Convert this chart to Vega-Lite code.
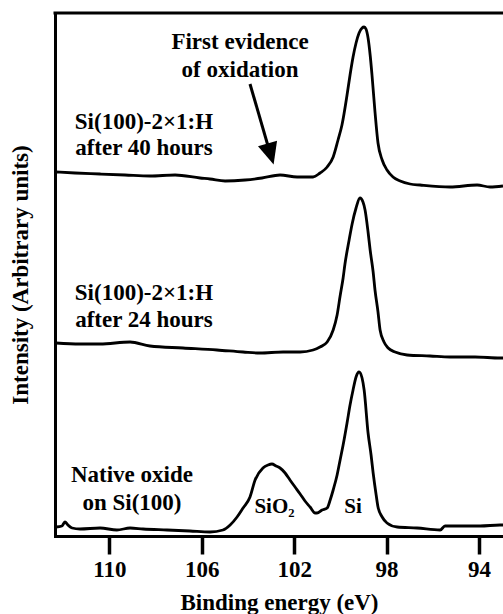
{
  "$schema": "https://vega.github.io/schema/vega-lite/v6.json",
  "width": 448,
  "height": 523,
  "autosize": "none",
  "padding": {"left": 55, "top": 13, "right": 0, "bottom": 78},
  "background": "white",
  "config": {"font": "Liberation Serif", "view": {"stroke": null}},
  "datasets": {
    "spectra": [
      {"series": "40h", "E": 112.31, "I": 364}, {"series": "40h", "E": 111.48, "I": 363}, {"series": "40h", "E": 110.40, "I": 362},
      {"series": "40h", "E": 109.32, "I": 361}, {"series": "40h", "E": 108.24, "I": 360}, {"series": "40h", "E": 107.15, "I": 361},
      {"series": "40h", "E": 106.07, "I": 358}, {"series": "40h", "E": 105.64, "I": 357}, {"series": "40h", "E": 104.99, "I": 355},
      {"series": "40h", "E": 104.12, "I": 356}, {"series": "40h", "E": 103.39, "I": 358}, {"series": "40h", "E": 102.61, "I": 361},
      {"series": "40h", "E": 101.87, "I": 359}, {"series": "40h", "E": 101.18, "I": 359}, {"series": "40h", "E": 100.88, "I": 363},
      {"series": "40h", "E": 100.57, "I": 369}, {"series": "40h", "E": 100.31, "I": 379}, {"series": "40h", "E": 100.10, "I": 396},
      {"series": "40h", "E": 99.93, "I": 411}, {"series": "40h", "E": 99.71, "I": 441}, {"series": "40h", "E": 99.58, "I": 461},
      {"series": "40h", "E": 99.45, "I": 479}, {"series": "40h", "E": 99.32, "I": 493}, {"series": "40h", "E": 99.19, "I": 503},
      {"series": "40h", "E": 99.06, "I": 508}, {"series": "40h", "E": 98.97, "I": 509}, {"series": "40h", "E": 98.89, "I": 507},
      {"series": "40h", "E": 98.80, "I": 498}, {"series": "40h", "E": 98.71, "I": 481}, {"series": "40h", "E": 98.63, "I": 461},
      {"series": "40h", "E": 98.50, "I": 424}, {"series": "40h", "E": 98.37, "I": 393}, {"series": "40h", "E": 98.19, "I": 376},
      {"series": "40h", "E": 97.98, "I": 366}, {"series": "40h", "E": 97.72, "I": 359}, {"series": "40h", "E": 97.41, "I": 355},
      {"series": "40h", "E": 96.98, "I": 352}, {"series": "40h", "E": 96.55, "I": 351}, {"series": "40h", "E": 95.25, "I": 349},
      {"series": "40h", "E": 94.08, "I": 351}, {"series": "40h", "E": 93.52, "I": 349}, {"series": "40h", "E": 92.96, "I": 350},

      {"series": "24h", "E": 112.31, "I": 193}, {"series": "24h", "E": 111.27, "I": 192}, {"series": "24h", "E": 110.40, "I": 192},
      {"series": "24h", "E": 109.10, "I": 194}, {"series": "24h", "E": 108.24, "I": 190}, {"series": "24h", "E": 106.81, "I": 188},
      {"series": "24h", "E": 105.34, "I": 186}, {"series": "24h", "E": 104.21, "I": 184}, {"series": "24h", "E": 103.48, "I": 183},
      {"series": "24h", "E": 102.48, "I": 184}, {"series": "24h", "E": 101.74, "I": 184}, {"series": "24h", "E": 101.18, "I": 186},
      {"series": "24h", "E": 100.88, "I": 189}, {"series": "24h", "E": 100.57, "I": 194}, {"series": "24h", "E": 100.31, "I": 206},
      {"series": "24h", "E": 100.14, "I": 221}, {"series": "24h", "E": 100.01, "I": 240}, {"series": "24h", "E": 99.88, "I": 258},
      {"series": "24h", "E": 99.80, "I": 272}, {"series": "24h", "E": 99.62, "I": 296}, {"series": "24h", "E": 99.49, "I": 312},
      {"series": "24h", "E": 99.32, "I": 328}, {"series": "24h", "E": 99.15, "I": 338}, {"series": "24h", "E": 99.02, "I": 334},
      {"series": "24h", "E": 98.93, "I": 326}, {"series": "24h", "E": 98.80, "I": 304}, {"series": "24h", "E": 98.71, "I": 286},
      {"series": "24h", "E": 98.58, "I": 264}, {"series": "24h", "E": 98.50, "I": 246}, {"series": "24h", "E": 98.37, "I": 224},
      {"series": "24h", "E": 98.28, "I": 206}, {"series": "24h", "E": 98.11, "I": 194}, {"series": "24h", "E": 97.93, "I": 188},
      {"series": "24h", "E": 97.63, "I": 184}, {"series": "24h", "E": 97.11, "I": 181}, {"series": "24h", "E": 96.12, "I": 180},
      {"series": "24h", "E": 95.25, "I": 179}, {"series": "24h", "E": 94.17, "I": 179}, {"series": "24h", "E": 93.09, "I": 178},
      {"series": "24h", "E": 92.96, "I": 178},

      {"series": "native", "E": 112.31, "I": 9}, {"series": "native", "E": 112.05, "I": 10}, {"series": "native", "E": 111.92, "I": 14},
      {"series": "native", "E": 111.79, "I": 11}, {"series": "native", "E": 111.61, "I": 8}, {"series": "native", "E": 111.27, "I": 7},
      {"series": "native", "E": 110.40, "I": 8}, {"series": "native", "E": 109.67, "I": 6}, {"series": "native", "E": 109.10, "I": 8},
      {"series": "native", "E": 108.54, "I": 7}, {"series": "native", "E": 107.50, "I": 6}, {"series": "native", "E": 106.51, "I": 5},
      {"series": "native", "E": 105.64, "I": 4}, {"series": "native", "E": 105.08, "I": 6}, {"series": "native", "E": 104.77, "I": 11},
      {"series": "native", "E": 104.47, "I": 19}, {"series": "native", "E": 104.21, "I": 28}, {"series": "native", "E": 103.91, "I": 39},
      {"series": "native", "E": 103.69, "I": 56}, {"series": "native", "E": 103.35, "I": 68}, {"series": "native", "E": 103.13, "I": 71},
      {"series": "native", "E": 102.96, "I": 72}, {"series": "native", "E": 102.78, "I": 70}, {"series": "native", "E": 102.61, "I": 68},
      {"series": "native", "E": 102.39, "I": 63}, {"series": "native", "E": 102.18, "I": 56}, {"series": "native", "E": 101.96, "I": 49},
      {"series": "native", "E": 101.74, "I": 42}, {"series": "native", "E": 101.53, "I": 35}, {"series": "native", "E": 101.31, "I": 29},
      {"series": "native", "E": 101.09, "I": 23}, {"series": "native", "E": 101.01, "I": 23}, {"series": "native", "E": 100.79, "I": 26},
      {"series": "native", "E": 100.57, "I": 28}, {"series": "native", "E": 100.44, "I": 36}, {"series": "native", "E": 100.31, "I": 46},
      {"series": "native", "E": 100.14, "I": 61}, {"series": "native", "E": 100.01, "I": 76}, {"series": "native", "E": 99.88, "I": 91},
      {"series": "native", "E": 99.71, "I": 113}, {"series": "native", "E": 99.58, "I": 131}, {"series": "native", "E": 99.45, "I": 146},
      {"series": "native", "E": 99.32, "I": 159}, {"series": "native", "E": 99.19, "I": 164}, {"series": "native", "E": 99.06, "I": 158},
      {"series": "native", "E": 98.97, "I": 146}, {"series": "native", "E": 98.80, "I": 103}, {"series": "native", "E": 98.67, "I": 81},
      {"series": "native", "E": 98.58, "I": 63}, {"series": "native", "E": 98.45, "I": 41}, {"series": "native", "E": 98.37, "I": 29},
      {"series": "native", "E": 98.19, "I": 19}, {"series": "native", "E": 97.98, "I": 13}, {"series": "native", "E": 97.54, "I": 9},
      {"series": "native", "E": 96.68, "I": 8}, {"series": "native", "E": 95.68, "I": 6}, {"series": "native", "E": 95.47, "I": 10},
      {"series": "native", "E": 94.82, "I": 10}, {"series": "native", "E": 93.95, "I": 10}, {"series": "native", "E": 93.09, "I": 11},
      {"series": "native", "E": 92.96, "I": 11}
    ],
    "labels": [
      {"E": 104.34, "I": 494, "text": "First evidence"},
      {"E": 104.34, "I": 466, "text": "of oxidation"},
      {"E": 108.50, "I": 414, "text": "Si(100)-2×1:H"},
      {"E": 108.50, "I": 388, "text": "after 40 hours"},
      {"E": 108.50, "I": 243, "text": "Si(100)-2×1:H"},
      {"E": 108.50, "I": 216, "text": "after 24 hours"},
      {"E": 109.02, "I": 61, "text": "Native oxide"},
      {"E": 109.02, "I": 33, "text": "on Si(100)"}
    ],
    "peaks": [
      {"E": 102.85, "I": 29, "text": "SiO₂"},
      {"E": 99.45, "I": 29, "text": "Si"}
    ]
  },
  "layer": [
    {
      "data": {"name": "spectra"},
      "mark": {"type": "line", "color": "black", "strokeWidth": 2.8, "strokeJoin": "round", "interpolate": "monotone"},
      "encoding": {
        "x": {
          "field": "E", "type": "quantitative",
          "scale": {"domain": [92.96, 112.35], "reverse": true, "nice": false, "zero": false},
          "axis": {
            "values": [110, 106, 102, 98, 94], "grid": false,
            "tickSize": 18, "tickWidth": 3.5, "tickColor": "black",
            "domainWidth": 3, "domainColor": "black", "domainCap": "square",
            "labelFont": "Liberation Serif", "labelFontSize": 23, "labelFontWeight": "bold", "labelColor": "black",
            "labelPadding": 4, "labelFlush": false,
            "title": "Binding energy (eV)", "titleFont": "Liberation Serif", "titleFontSize": 23,
            "titleFontWeight": "bold", "titleColor": "black", "titlePadding": 10
          }
        },
        "y": {
          "field": "I", "type": "quantitative",
          "scale": {"domain": [0, 523], "nice": false, "zero": false},
          "axis": {
            "title": "Intensity (Arbitrary units)", "labels": false, "ticks": false, "grid": false,
            "domainWidth": 3, "domainColor": "black", "domainCap": "square",
            "titleFont": "Liberation Serif", "titleFontSize": 23, "titleFontWeight": "bold",
            "titleColor": "black", "titlePadding": 23
          }
        },
        "detail": {"field": "series"}
      }
    },
    {
      "data": {"values": [{}]},
      "mark": {"type": "rule", "color": "black", "strokeWidth": 3, "strokeCap": "square"},
      "encoding": {"y": {"datum": 523}}
    },
    {
      "data": {"name": "labels"},
      "mark": {"type": "text", "font": "Liberation Serif", "fontSize": 23, "fontWeight": "bold", "align": "center", "baseline": "middle", "color": "black"},
      "encoding": {
        "x": {"field": "E", "type": "quantitative"},
        "y": {"field": "I", "type": "quantitative"},
        "text": {"field": "text"}
      }
    },
    {
      "data": {"name": "peaks"},
      "mark": {"type": "text", "font": "Liberation Serif", "fontSize": 21, "fontWeight": "bold", "align": "center", "baseline": "middle", "color": "black"},
      "encoding": {
        "x": {"field": "E", "type": "quantitative"},
        "y": {"field": "I", "type": "quantitative"},
        "text": {"field": "text"}
      }
    },
    {
      "data": {"values": [{"E1": 103.91, "I1": 452, "E2": 103.13, "I2": 390}]},
      "mark": {"type": "rule", "color": "black", "strokeWidth": 3},
      "encoding": {
        "x": {"field": "E1", "type": "quantitative"},
        "y": {"field": "I1", "type": "quantitative"},
        "x2": {"field": "E2"},
        "y2": {"field": "I2"}
      }
    },
    {
      "data": {"values": [{"E": 103.02, "I": 382}]},
      "mark": {"type": "point", "shape": "M0,1 L-0.9,-1 L0.9,-1 Z", "filled": true, "size": 484, "angle": -16, "color": "black", "opacity": 1, "strokeWidth": 0},
      "encoding": {
        "x": {"field": "E", "type": "quantitative"},
        "y": {"field": "I", "type": "quantitative"}
      }
    }
  ]
}
